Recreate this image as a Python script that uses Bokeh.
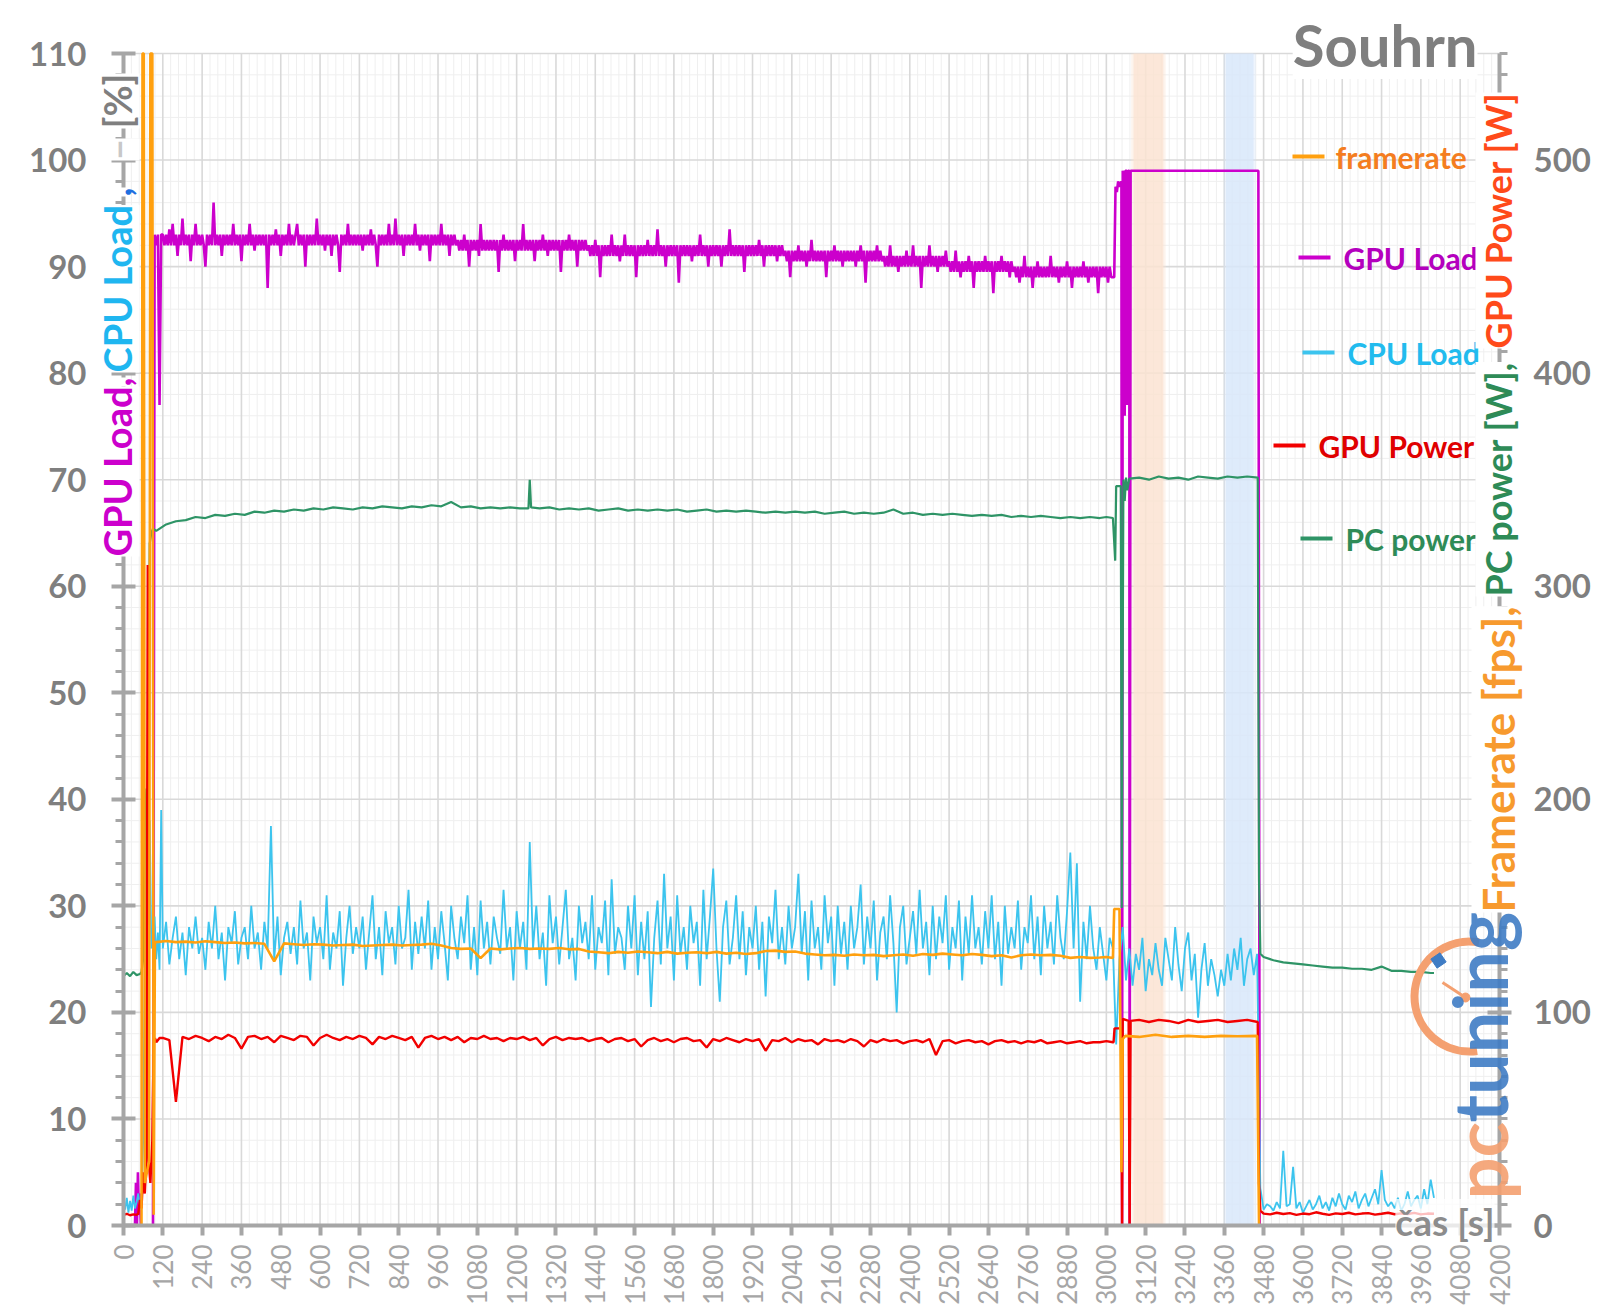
import math
from bokeh.plotting import figure
from bokeh.models import Range1d, LinearAxis, SingleIntervalTicker, FixedTicker, Label
from bokeh.embed import file_html
from bokeh.resources import INLINE

FONT = "Lato"
GRAY = "#7F7F7F"

# ---------------- data ----------------
SERIES_NAMES = ["framerate", "GPU Load", "CPU Load", "GPU Power", "PC power"]
X_TICKS = list(range(0, 4201, 120))          # time axis tick labels [s]
Y_TICKS = list(range(0, 111, 10))            # left axis tick labels [%]

# GPU Load [%]
GPU_LOAD_START_T = [0, 35, 38, 41, 44, 47, 50, 53, 90, 95, 100, 105, 110, 115]
GPU_LOAD_START = [0, 0, 4, 0, 5, 1, 3, 0, 0, 93, 92, 93, 77, 93]
GPU_LOAD_MAIN = [  # every 5 s from 120 s
    93, 92, 93, 92, 93.5, 92, 94, 92, 93, 91, 93, 92, 94.5, 92, 93, 92, 93, 90.5, 93, 92,
    94, 92, 93, 92, 93, 92, 90, 93, 92, 93, 92, 96, 92, 93, 92, 93, 91, 93, 92, 93,
    92, 93, 92, 94, 92, 93, 92, 93, 90.5, 93, 92, 93, 92, 94, 92, 93, 91.5, 93, 92, 93,
    92, 93, 92, 93, 88, 93, 92, 93, 92, 93.5, 92, 93, 91, 93, 92, 93, 92, 94, 92, 93,
    92, 93, 94, 92, 93, 92, 93, 90, 93, 92, 93, 92, 93, 92, 94.5, 92, 93, 92, 93, 91.5,
    93, 92, 93, 91, 93, 92, 93, 92, 89.5, 93, 92, 93, 92, 94, 92, 93, 92, 93, 92, 93,
    92, 93, 91.5, 93, 92, 93, 92, 93.5, 92, 93, 92, 90, 93, 92, 93, 92, 93, 92, 94, 92,
    93, 92, 94.5, 92, 93, 92, 93, 91, 93, 92, 93, 92, 93, 92, 94, 92, 93, 91.5, 93, 92,
    93, 92, 93, 90.5, 93, 92, 93, 92, 93, 92, 94, 92, 93, 92, 93, 91, 93, 92, 93, 92,
    92.5, 91.5, 92.5, 91.5, 93, 91.5, 92.5, 90, 92.5, 91.5, 92.5, 91.5, 92.5, 91, 94, 91.5, 92.5, 91.5, 92.5, 91.5,
    92.5, 91.5, 92.5, 91.5, 92.5, 89.5, 92.5, 91.5, 93, 91.5, 92.5, 91.5, 92.5, 91.5, 92.5, 90.5, 92.5, 91.5, 92.5, 91.5,
    94, 91.5, 92.5, 91.5, 92.5, 91.5, 92.5, 90.5, 92.5, 91.5, 92.5, 91.5, 93, 91.5, 92.5, 91, 92.5, 91.5, 92.5, 91.5,
    92.5, 91.5, 92.5, 89.5, 92.5, 91.5, 92.5, 91.5, 93, 91.5, 92.5, 91.5, 92.5, 90, 92.5, 91.5, 92.5, 91.5, 92.5, 91.5,
    92, 91, 92, 91, 92.5, 91, 92, 89, 92, 91, 92, 91, 92, 91, 93, 91, 92, 91, 92, 90.5,
    92, 91, 93, 91, 92, 91, 92, 91, 92, 89, 92, 91, 92, 91, 92, 91, 92.5, 91, 92, 91,
    92, 91, 93.5, 91, 92, 91, 92, 90, 92, 91, 92, 91, 92, 91, 92, 88.5, 92, 91, 92, 91,
    92, 91, 92, 90.5, 92, 91, 92, 91, 93, 91, 92, 91, 92, 90, 92, 91, 92, 91, 92, 91,
    92, 90, 92, 91, 92, 91, 93.5, 91, 92, 91, 92, 91, 92, 91, 92, 89.5, 92, 91, 92, 91,
    92, 91, 92, 91, 92.5, 91, 92, 90, 92, 91, 92, 91, 92, 91, 92, 90.5, 92, 91, 92, 91,
    91.5, 90.5, 91.5, 89, 91.5, 90.5, 91.5, 90.5, 92, 90.5, 91.5, 90.5, 91.5, 90, 91.5, 90.5, 92.5, 90.5, 91.5, 90.5,
    91.5, 90.5, 91.5, 90.5, 91.5, 89, 91.5, 90.5, 91.5, 90.5, 92, 90.5, 91.5, 90.5, 91.5, 90, 91.5, 90.5, 91.5, 90.5,
    91.5, 90.5, 91.5, 90, 91.5, 90.5, 92, 90.5, 91.5, 88.5, 91.5, 90.5, 91.5, 90.5, 91.5, 90.5, 92, 90.5, 91.5, 90.5,
    91, 90, 91, 90, 92, 90, 91, 90, 91, 89.5, 91, 90, 91, 90, 91.5, 90, 91, 90, 92, 90,
    91, 90, 91, 88, 91, 90, 91, 90, 92, 90, 91, 90, 91, 89.5, 91, 90, 91, 90, 91.5, 90,
    90.5, 89.5, 90.5, 89.5, 91.5, 89.5, 90.5, 89, 90.5, 89.5, 90.5, 89.5, 91, 89.5, 90.5, 88, 90.5, 89.5, 90.5, 89.5,
    90.5, 89.5, 91, 89.5, 90.5, 89.5, 90.5, 87.5, 90.5, 89.5, 90.5, 89.5, 91, 89.5, 90.5, 89.5, 90.5, 89, 90.5, 89.5,
    90, 89, 90, 88.5, 90, 89, 91, 89, 90, 89, 90, 88, 90, 89, 90.5, 89, 90, 89, 90, 89,
    90, 89, 91, 89, 90, 89, 90, 88.5, 90, 89, 90, 89, 90.5, 89, 90, 88, 90, 89, 90, 89,
    90, 89, 90.5, 89, 90, 88.5, 90, 89, 90, 89, 90, 87.5, 90, 89, 90, 89, 90, 88.5, 90, 89,
]
GPU_LOAD_END_T = [3020, 3024, 3028, 3032, 3036, 3040, 3046, 3048, 3050, 3054, 3056, 3058,
                  3062, 3064, 3066, 3070, 3071, 3074, 3464, 3468, 4000]
GPU_LOAD_END = [89, 89, 97.5, 97, 98, 97.5, 98, 0, 99, 98, 76, 99,
                99, 77, 99, 99, 0, 99, 99, 0, 0]

# CPU Load [%]
CPU_START_T = [0, 5, 10, 15, 20, 25, 30, 35, 40, 45, 50, 55, 60, 65, 70, 75, 80, 85, 90, 95, 100, 105, 110, 115]
CPU_START = [2, 1.5, 2.6, 1.2, 2.3, 1.4, 2.8, 1.6, 2.2, 3.0, 1.5, 2.5, 8, 25, 41, 28, 38, 26, 27, 29, 25, 27.5, 24, 39]
CPU_MAIN = [  # every 10 s from 120 s
    26, 28.5, 24.5, 27, 29, 25, 27.5, 23.5, 28, 26,
    29, 25.5, 27, 24, 28.5, 26, 30, 25, 27.5, 23,
    28, 26.5, 29.5, 24.5, 27, 28, 25, 30, 26, 27.5,
    24, 28.5, 26, 37.5, 25, 29, 23.5, 27, 28.5, 25.5,
    28, 24.5, 30.5, 26, 27.5, 23, 29, 26.5, 28, 25,
    31, 24, 27.5, 26, 29.5, 22.5, 27, 30, 25.5, 28,
    26, 29, 24, 27.5, 31, 25, 28, 23.5, 29.5, 26.5,
    28, 24.5, 30, 26, 27, 31.5, 24, 28.5, 25.5, 29,
    26, 30.5, 24, 28, 25, 29.5, 26.5, 23, 30, 27,
    25, 29, 26.5, 31, 24, 28, 23.5, 30.5, 26, 28.5,
    24.5, 29, 27, 25.5, 31.5, 26, 28, 23, 29.5, 26,
    28.5, 24, 36, 26, 30, 25, 27.5, 22.5, 31, 26.5,
    29, 24.5, 28, 31.5, 25, 27, 23, 30, 26.5, 28.5,
    25, 31, 24, 28, 26.5, 30.5, 23.5, 32.5, 25.5, 28,
    27, 24, 30, 26, 31, 23.5, 28.5, 25, 29.5, 20.5,
    27, 30.5, 24.5, 33, 26, 29, 23, 31, 25.5, 28,
    24, 30, 26.5, 28.5, 22.5, 31.5, 25, 29, 33.5, 26,
    21, 28, 30.5, 24.5, 27, 31, 25, 29.5, 23.5, 28,
    26, 30, 24, 28.5, 21.5, 29, 26.5, 31.5, 25, 28,
    24.5, 30, 26, 28, 33, 25.5, 29.5, 23, 30.5, 26,
    28, 24, 31, 26.5, 29, 22.5, 30, 25.5, 28.5, 24,
    30, 26, 28, 32, 24.5, 29, 26, 30.5, 23, 27.5,
    29, 25, 31, 26.5, 20, 28, 30, 24.5, 27, 29.5,
    25.5, 31.5, 26, 28.5, 23.5, 30, 25, 29, 26.5, 31,
    24, 28, 26, 30.5, 23, 29, 25.5, 31, 26, 28,
    24.5, 29.5, 26, 31, 25, 28.5, 22.5, 30, 25.5, 28,
    26, 30.5, 24, 28, 26.5, 31, 25, 29, 23.5, 30,
    26, 28.5, 24.5, 31, 27, 25, 29.5, 35, 26, 34,
    21, 28.5, 25, 30, 26, 24, 28, 25.5, 23, 27,
]
CPU_MID = [  # every 10 s from 3020 s
    26, 17, 25, 28,
    23, 26, 22.5, 25.5, 24, 27, 22, 25, 23.5, 26.5, 24, 22.5, 27, 25, 23, 28, 24.5, 22, 26, 27.5,
    23, 25.5, 19.5, 24, 26.5, 22.5, 25, 23.5, 21.5, 24, 22.5, 25.5, 23, 26, 24, 27, 22.5, 25, 26,
    23.5, 25.5,
]
CPU_POST = [  # every 10 s from 3470 s
    3.5, 1.5, 2, 1.8, 1.4, 2.2, 1.6, 7, 1.8, 2, 5.5, 1.6, 2.2, 1.2, 1.8, 2.4, 1.5, 2, 2.8, 1.6,
    2.2, 1.4, 2.6, 1.8, 3, 2, 1.5, 2.8, 2.2, 3.2, 1.6, 2.4, 3, 1.8, 2.6, 3.4, 2, 5.2, 2.4, 1.8,
    2.2, 1.6, 2.6, 1.4, 2, 3.2, 1.8, 2.4, 2.8, 1.6, 3.4, 2, 4.3, 2.6,
]

# GPU Power [W]
GPU_POW_START_T = [0, 10, 20, 30, 40, 45, 50, 55, 60, 65, 70, 74, 77, 82, 88, 92, 96, 100, 110]
GPU_POW_START = [5, 5.5, 4.8, 5.2, 5, 5.5, 12, 8, 25, 15, 33, 310, 30, 20, 40, 85, 88, 86, 88]
GPU_POW_MAIN = [  # every 20 s from 120 s
    88, 87, 58, 88.5, 87.5, 89, 88, 86.5, 88.5, 87.5,
    89.5, 88, 83, 88.5, 89, 87.5, 88.5, 86, 89, 88,
    87, 89, 88.5, 84.5, 88, 89.5, 88, 87, 88.5, 87.5,
    89, 88, 85, 88.5, 87.5, 89, 88, 87, 88.5, 83.5,
    88, 89, 87.5, 88.5, 87, 88.5, 86, 88, 87.5, 89,
    87.5, 88, 86.5, 88, 87.5, 88.5, 87, 88, 84.5, 87.5,
    88.5, 87, 88, 87.5, 88, 86.5, 87.5, 88, 86, 87.5,
    88, 86.5, 87.5, 84, 87, 88, 86.5, 87.5, 86, 87.5,
    88, 86.5, 87, 83.5, 87.5, 86.5, 88, 87, 86, 87.5,
    86.5, 87.5, 82, 87, 86.5, 88, 86, 87.5, 86.5, 87,
    85, 87.5, 86.5, 87, 86, 87.5, 86.5, 84, 87, 86,
    87.5, 86.5, 87, 85.5, 86.5, 87, 86, 87.5, 80, 86.5,
    87, 85.5, 86.5, 87, 86, 86.5, 85, 86.5, 87, 86,
    86.5, 85.5, 86.5, 86, 87, 85.5, 86, 86.5, 85.5, 86,
    86.5, 85.5, 86, 86,
]
GPU_POW_END_T = [3000, 3020, 3022, 3025, 3045, 3048, 3050, 3068, 3071, 3074, 3100, 3130, 3160, 3190,
                 3220, 3250, 3280, 3310, 3340, 3370, 3400, 3430, 3462, 3466, 3470]
GPU_POW_END = [86.5, 86, 86, 92.5, 92.5, 0, 97, 96, 0, 96, 96.5, 95.5, 96.5, 96,
               95, 96.5, 95.5, 96, 96.5, 95.5, 96, 96.5, 95.5, 19.5, 7]
GPU_POW_POST = [  # every 20 s from 3480 s
    5.6, 5.2, 6, 5.4, 5.8, 5, 5.6, 5.3, 6.2, 5.5, 5, 5.7, 5.4, 6, 5.2, 5.6, 5.8, 5.1, 5.5, 6,
    5.3, 5.7, 5.4, 5.9, 5.2, 5.6, 5.5,
]

# Framerate [fps] (550 = off the top of the chart)
FPS_START_T = [0, 55, 58, 62, 65, 78, 82, 88, 92, 96]
FPS_START = [0, 0, 550, 550, 20, 30, 550, 550, 5, 133]
FPS_MAIN = [  # every 30 s from 100 s
    133, 133.5, 133, 133.2, 132.8, 133.4, 133, 132.6, 132.8, 132.4,
    132.6, 132.2, 124, 132.4, 132, 131.6, 132, 131.8, 131.4, 131.6,
    131.8, 131.2, 131.4, 131.6, 131.8, 131.4, 131.6, 131.8, 132.2, 131.4,
    130.2, 129.8, 130, 125.5, 130, 129.6, 130, 130.2, 129.8, 130,
    129.8, 130.2, 129.6, 129.8, 128.6, 128.2, 127.8, 128.4, 128, 128.6,
    128.2, 127.8, 128.4, 127.6, 128, 128.2, 127.8, 128.4, 127.6, 128,
    127.4, 127.8, 128.8, 129, 128.4, 128.6, 127.6, 127.2, 126.8, 127,
    126.6, 127.2, 126.8, 127, 126.4, 126.8, 127.2, 126.6, 127.4, 127,
    127.6, 127.2, 126.8, 127.4, 127, 126.4, 126.8, 125.8, 126.8, 127.2,
    126.8, 127, 126.6, 125.6, 126, 125.6, 125.8,
]
FPS_END_T = [3000, 3020, 3024, 3040, 3046, 3050, 3058, 3100, 3150, 3200, 3250, 3300, 3350,
             3400, 3460, 3466, 4000]
FPS_END = [126, 125.5, 148.5, 148.5, 25, 87.5, 89, 88.5, 89.5, 88.5, 89, 88.5, 89,
           88.8, 89, 0, 0]

# PC power [W]
PC_START_T = [0, 10, 20, 30, 40, 50, 55, 60, 65, 70, 75, 80, 85, 90]
PC_START = [117, 118.5, 117, 119, 117.5, 118, 119, 125, 190, 205, 180, 320, 325, 327]
PC_MAIN_A = [  # every 30 s from 100 s to 1210 s
    326, 329, 330.5, 331, 332.5, 332, 333.5, 333, 334, 333.5,
    335, 334.5, 335.5, 335, 336, 335.5, 336.5, 336, 337, 336.5,
    336, 337, 336.5, 337.5, 337, 336.5, 337.5, 337, 338, 337.5,
    339.5, 337, 337.5, 336.5, 337, 336.5, 337, 336.5,
]
PC_SPIKE_T = [1236, 1240, 1244]
PC_SPIKE = [336.5, 350, 337]
PC_MAIN_B = [  # every 30 s from 1270 s
    336.5,
    337, 336, 336.5, 336, 336.5, 335.5, 336, 336.5, 335.5, 336,
    335.5, 336, 335.5, 336, 335, 335.5, 336, 335, 335.5, 335,
    335.5, 335, 334.5, 335, 334.5, 335, 334.5, 335, 334, 334.5,
    335, 334, 334.5, 334, 334.5, 336, 334, 334.5, 333.5, 334,
    333.5, 334, 333.5, 333, 333.5, 333, 333.5, 332.5, 333, 332.5,
    333, 332.5, 332, 332.5, 332, 332.5, 332,
]
PC_END_T = [3000, 3020, 3027, 3030, 3044, 3047, 3052, 3056, 3060, 3064, 3070, 3100, 3130, 3160,
            3190, 3220, 3250, 3280, 3310, 3340, 3370, 3400, 3430, 3462, 3466]
PC_END = [332.5, 332, 312, 347, 347, 149, 350, 340, 351, 345, 350.5, 351, 350, 351.5,
          350.5, 351, 350, 351.5, 351, 350.5, 351.5, 351, 351.5, 351, 162]
PC_POST_T = [3470, 3480, 3510, 3540, 3570, 3600, 3630, 3660, 3690, 3720, 3750, 3780, 3810,
             3840, 3870, 3900, 3930, 3960, 3990, 4000]
PC_POST = [127.5, 126, 124.5, 123.5, 123, 122.5, 122, 121.5, 121, 121, 120.5, 120.5, 120,
           121.5, 119.5, 119.5, 119, 119, 118.5, 118.5]

# highlighted time spans [s]
ORANGE_SPAN = (3083, 3174)
BLUE_SPAN = (3365, 3449)


def ramp(start, step, n):
    return [start + step * i for i in range(n)]


gpu_load_t = GPU_LOAD_START_T + ramp(120, 5, len(GPU_LOAD_MAIN)) + GPU_LOAD_END_T
gpu_load_v = GPU_LOAD_START + GPU_LOAD_MAIN + GPU_LOAD_END
cpu_t = CPU_START_T + ramp(120, 10, len(CPU_MAIN)) + ramp(3020, 10, len(CPU_MID)) + ramp(3470, 10, len(CPU_POST))
cpu_v = CPU_START + CPU_MAIN + CPU_MID + CPU_POST
gpow_t = GPU_POW_START_T + ramp(120, 20, len(GPU_POW_MAIN)) + GPU_POW_END_T + ramp(3480, 20, len(GPU_POW_POST))
gpow_v = GPU_POW_START + GPU_POW_MAIN + GPU_POW_END + GPU_POW_POST
fps_t = FPS_START_T + ramp(100, 30, len(FPS_MAIN)) + FPS_END_T
fps_v = FPS_START + FPS_MAIN + FPS_END
pc_t = (PC_START_T + ramp(100, 30, len(PC_MAIN_A)) + PC_SPIKE_T + ramp(1270, 30, len(PC_MAIN_B))
        + PC_END_T + PC_POST_T)
pc_v = PC_START + PC_MAIN_A + PC_SPIKE + PC_MAIN_B + PC_END + PC_POST

# ---------------- layout: page pixels <-> data ----------------
W, H = 1596, 1310
FL, FR, FT, FB = 123, 1499, 53, 1225          # plot box on the page
X0, X1, Y0, Y1, R1 = 0, 4200, 0, 110, 550     # axis extents


def tx(px):
    return X0 + (px - FL) * (X1 - X0) / (FR - FL)


def vy(py):
    return Y0 + (FB - py) * (Y1 - Y0) / (FB - FT)


p = figure(width=W, height=H, x_range=Range1d(tx(0), tx(W)), y_range=Range1d(vy(H), vy(0)),
           x_axis_location=None, y_axis_location=None,
           output_backend="svg", toolbar_location=None,
           min_border_left=0, min_border_right=0, min_border_top=0, min_border_bottom=0)
p.extra_y_ranges = {"right": Range1d(vy(H) * R1 / Y1, vy(0) * R1 / Y1)}
p.outline_line_color = None
p.background_fill_color = "white"
p.border_fill_color = "white"
p.grid.visible = False

# grid
minor_x = [t + k * 24 for t in X_TICKS[:-1] for k in range(1, 5)]
minor_y = [v + k * 2 for v in Y_TICKS[:-1] for k in range(1, 5)]
p.segment(x0=minor_x, x1=minor_x, y0=[Y0] * len(minor_x), y1=[Y1] * len(minor_x),
          line_color="#EFEFEF", line_width=1)
p.segment(x0=[X0] * len(minor_y), x1=[X1] * len(minor_y), y0=minor_y, y1=minor_y,
          line_color="#EFEFEF", line_width=1)
p.segment(x0=X_TICKS, x1=X_TICKS, y0=[Y0] * len(X_TICKS), y1=[Y1] * len(X_TICKS),
          line_color="#D9D9D9", line_width=1.6)
p.segment(x0=[X0] * len(Y_TICKS), x1=[X1] * len(Y_TICKS), y0=Y_TICKS, y1=Y_TICKS,
          line_color="#D9D9D9", line_width=1.6)

# highlighted spans (soft edges)
for (l, r), col in ((ORANGE_SPAN, "#FBE3D2"), (BLUE_SPAN, "#D8E7FA")):
    p.quad(left=[l - 7], right=[r + 7], bottom=[Y0], top=[Y1], fill_color=col, fill_alpha=0.4, line_color=None)
    p.quad(left=[l], right=[r], bottom=[Y0], top=[Y1], fill_color=col, fill_alpha=0.75, line_color=None)

# axes, drawn at fixed positions on the data box
AX = "#A6A6A6"
xa = LinearAxis(ticker=FixedTicker(ticks=X_TICKS), fixed_location=Y0, bounds=(X0, X1))
ya = LinearAxis(ticker=SingleIntervalTicker(interval=10, num_minor_ticks=5), fixed_location=X0, bounds=(Y0, Y1))
ra = LinearAxis(y_range_name="right", ticker=SingleIntervalTicker(interval=100, num_minor_ticks=10),
                fixed_location=X1, bounds=(0, R1))
p.add_layout(xa, "below")
p.add_layout(ya, "left")
p.add_layout(ra, "right")

xa.axis_line_color = AX
xa.axis_line_width = 4
xa.major_tick_line_color = AX
xa.major_tick_line_width = 4
xa.major_tick_in = 0
xa.major_tick_out = 10
xa.minor_tick_out = 0
xa.minor_tick_in = 0
xa.major_label_orientation = math.pi / 2
xa.major_label_text_font = FONT
xa.major_label_text_font_size = "26px"
xa.major_label_text_color = "#A6A6A6"
xa.major_label_standoff = 9

for a, st in ((ya, 25), (ra, 22)):
    a.axis_line_color = AX
    a.axis_line_width = 4
    a.major_tick_line_color = AX
    a.major_tick_line_width = 4
    a.major_tick_in = 12
    a.major_tick_out = 12
    a.minor_tick_line_color = AX
    a.minor_tick_line_width = 3
    a.minor_tick_in = 0
    a.minor_tick_out = 8
    a.major_label_text_font = FONT
    a.major_label_text_font_style = "bold"
    a.major_label_text_font_size = "33px"
    a.major_label_text_color = GRAY
    a.major_label_standoff = st

# series
C_GL, C_CPU, C_GP, C_PC, C_FPS = "#CC00CC", "#3CC4EE", "#F20000", "#2E9466", "#FFA00F"
p.line(gpu_load_t, gpu_load_v, line_color=C_GL, line_width=2.6)
p.line(cpu_t, cpu_v, line_color=C_CPU, line_width=1.8)
p.line(pc_t, pc_v, line_color=C_PC, line_width=2.2, y_range_name="right")
p.line(gpow_t, gpow_v, line_color=C_GP, line_width=2.4, y_range_name="right")
p.line(fps_t, fps_v, line_color=C_FPS, line_width=2.6, y_range_name="right")

# legend (free-floating entries)
leg_line_cols = [C_FPS, C_GL, C_CPU, C_GP, C_PC]
leg_text_cols = ["#F47D20", "#B400BE", "#22BBEE", "#E00000", "#2E8B57"]
leg_y = [156, 257, 352, 445, 538]
leg_x0 = [1292, 1298, 1302, 1273, 1300]
leg_tx = [1335, 1343, 1347, 1318, 1345]
p.segment(x0=[tx(a) for a in leg_x0], x1=[tx(a + 32) for a in leg_x0],
          y0=[vy(b) for b in leg_y], y1=[vy(b) for b in leg_y],
          line_color=leg_line_cols, line_width=4)
for name, col, yy, xx in zip(SERIES_NAMES, leg_text_cols, leg_y, leg_tx):
    p.add_layout(Label(x=tx(xx), y=vy(yy), text=name, text_align="left", text_baseline="middle",
                       text_font=FONT, text_font_style="bold", text_font_size="30px", text_color=col))


def vlabel(txt, col, px, py, size):
    p.add_layout(Label(x=tx(px), y=vy(py), text=txt, angle=math.pi / 2, text_align="left",
                       text_baseline="middle", text_font=FONT, text_font_style="bold",
                       text_font_size=size, text_color=col, background_fill_color="white"))


# axis titles (multi-coloured, rotated)
for txt, col, yy in [("GPU Load", "#CC00CC", 556), (",", "#CC00CC", 386), ("CPU Load", "#1FB6F0", 372),
                     (",", "#1F6FE0", 196), ("–", "#C8C8C8", 160), ("[%]", GRAY, 128)]:
    vlabel(txt, col, 116, yy, "38px")
for txt, col, yy, sz in [("Framerate [fps],", "#F79A2E", 912, "44px"), ("PC power [W],", "#2E8B57", 596, "36px"),
                         ("GPU Power [W]", "#FF4A1A", 348, "36px")]:
    vlabel(txt, col, 1497, yy, sz)

# title and x-axis name
p.add_layout(Label(x=tx(1477), y=vy(44), text="Souhrn", text_align="right", text_baseline="middle",
                   text_font=FONT, text_font_style="bold", text_font_size="58px", text_color=GRAY,
                   background_fill_color="white"))
p.add_layout(Label(x=tx(1494), y=vy(1221), text="čas [s]", text_align="right", text_baseline="middle",
                   text_font=FONT, text_font_style="bold", text_font_size="37px", text_color="#8C8C8C",
                   background_fill_color="white", background_fill_alpha=0.75))

# pctuning logo
p.arc(x=[tx(1469)], y=[vy(996)], radius=55, radius_units="screen", start_angle=math.radians(80),
      end_angle=math.radians(278), line_color="#F4A070", line_width=8)
p.segment(x0=[tx(1442)], y0=[vy(982)], x1=[tx(1465)], y1=[vy(997)], line_color="#F4A070", line_width=3)
p.scatter(x=[tx(1465)], y=[vy(997)], size=9, color="#F4A070")
p.scatter(x=[tx(1438)], y=[vy(960)], size=11, marker="square", angle=0.6, color="#3F7CC4")
for txt, col, yy in [("pc", "#F4A070", 1199), ("tuning", "#3F7CC4", 1122)]:
    p.add_layout(Label(x=tx(1479), y=vy(yy), text=txt, angle=math.pi / 2, text_align="left",
                       text_baseline="middle", text_font=FONT, text_font_style="bold",
                       text_font_size="74px", text_color=col, text_alpha=0.9))

open("out.html", "w").write(file_html(p, INLINE))
